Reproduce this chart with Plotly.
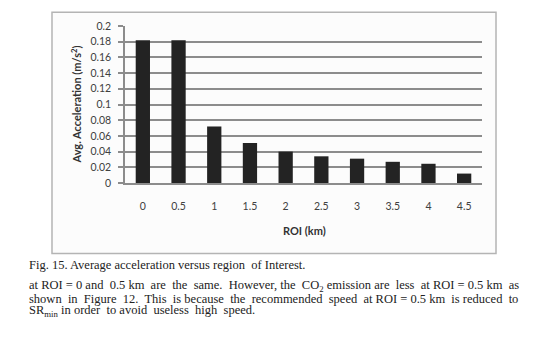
import plotly.graph_objects as go

roi_km = ["0", "0.5", "1", "1.5", "2", "2.5", "3", "3.5", "4", "4.5"]
avg_accel = [0.182, 0.182, 0.072, 0.051, 0.040, 0.034, 0.031, 0.027, 0.0245, 0.012]
y_ticks = [0, 0.02, 0.04, 0.06, 0.08, 0.1, 0.12, 0.14, 0.16, 0.18, 0.2]

W, H = 555, 339
L, R = 125, 482        # plot area x pixels
T, B = 25.7, 183.3     # plot area y pixels

def px(x):
    return (x - L) / (R - L)

def py(y):
    return (B - y) / (B - T)

fig = go.Figure(go.Bar(
    x=roi_km, y=avg_accel, marker=dict(color="#232323", line=dict(width=0)),
))

font_sans = "Lato"
font_serif = "Liberation Serif"

shapes = [
    dict(type="rect", xref="paper", yref="paper", x0=px(52), x1=px(496), y0=py(254), y1=py(12),
         line=dict(color="#b4b4b4", width=1.5), fillcolor="#fcfcfc", layer="below"),
]

annotations = [
    dict(text="<b>Avg. Acceleration (m/s<sup>2</sup>)</b>", xref="paper", yref="paper",
         x=px(76), y=py(104.5), textangle=-90, showarrow=False,
         font=dict(family=font_sans, size=11, color="#333333"), xanchor="center", yanchor="middle"),
    dict(text="<b>ROI (km)</b>", xref="paper", yref="paper", x=px(304), y=py(231),
         showarrow=False, font=dict(family=font_sans, size=11, color="#333333"),
         xanchor="center", yanchor="middle"),
]

caption_lines = [
    (266, "Fig. 15. Average acceleration versus region  of Interest."),
    (286.5, "at ROI = 0 and  0.5 km  are  the  same.  However, the  CO<sub>2</sub> emission are  less  at ROI = 0.5 km  as"),
    (299.6, "shown  in  Figure  12.  This  is because  the  recommended  speed  at ROI = 0.5 km  is reduced  to"),
    (312, "SR<sub>min</sub> in order  to avoid  useless  high  speed."),
]
for yy, txt in caption_lines:
    annotations.append(dict(text=txt, xref="paper", yref="paper", x=px(27), y=py(yy),
                            showarrow=False, xanchor="left", yanchor="middle",
                            font=dict(family=font_serif, size=12.5, color="#222222")))

fig.update_layout(
    width=W, height=H,
    margin=dict(l=L, r=W - R, t=T, b=H - B, pad=0),
    paper_bgcolor="white", plot_bgcolor="rgba(0,0,0,0)",
    bargap=0.6, showlegend=False,
    shapes=shapes, annotations=annotations,
    xaxis=dict(
        type="category", showgrid=False, showline=True, linecolor="#8c8c8c", linewidth=1.5,
        ticks="outside", ticklen=13, tickcolor="rgba(0,0,0,0)",
        tickfont=dict(family=font_sans, size=10.5, color="#404040"), zeroline=False,
    ),
    yaxis=dict(
        range=[0, 0.2], tickvals=y_ticks, ticktext=[f"{v:g}" for v in y_ticks],
        showgrid=True, gridcolor="#8c8c8c", gridwidth=1.5,
        showline=True, linecolor="#8c8c8c", linewidth=1.5,
        ticks="outside", ticklen=5, tickcolor="#8c8c8c", tickwidth=1.5,
        ticklabelstandoff=5,
        tickfont=dict(family=font_sans, size=10.5, color="#404040"), zeroline=False,
    ),
)

fig.write_html("out.html")
